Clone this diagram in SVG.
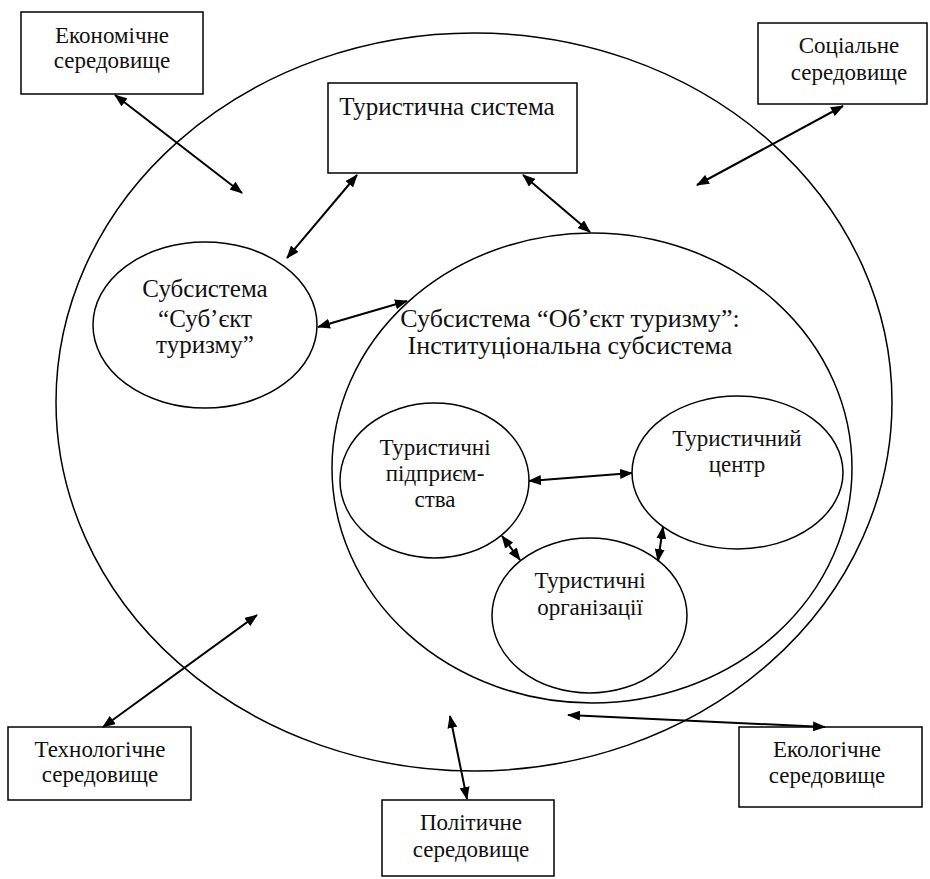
<svg xmlns="http://www.w3.org/2000/svg" width="930" height="879" viewBox="0 0 930 879">
<defs>
<style>
.box{fill:#fff;stroke:#000;stroke-width:1.5}
.ell{fill:none;stroke:#000;stroke-width:1.5}
.t{fill:#111;text-anchor:middle}
.s23{font-size:23px}
.s24{font-size:24px}
.s25{font-size:25px}
.s26{font-size:26px}
.con line{stroke:#000;stroke-width:2;marker-start:url(#ah);marker-end:url(#ah)}
</style>
<marker id="ah" viewBox="0 0 13 10" refX="12" refY="5" markerWidth="13" markerHeight="10" markerUnits="userSpaceOnUse" orient="auto-start-reverse">
<path d="M0,0 L13,5 L0,10 z" fill="#000"/>
</marker>
</defs>
<rect width="930" height="879" fill="#fff"/>
<g font-family="'Liberation Serif', 'Times New Roman', Tinos, 'DejaVu Serif', serif">
<g id="env-circle"><ellipse class="ell" cx="474" cy="402" rx="418" ry="369"/></g>
<g id="object-subsystem">
<ellipse class="ell" cx="592" cy="468" rx="260" ry="235"/>
<text class="t s26" x="570" y="327">Субсистема “Об’єкт туризму”:</text>
<text class="t s26" x="570" y="354">Інституціональна субсистема</text>
</g>
<g id="tourist-system">
<rect class="box" x="328" y="83" width="249" height="90"/>
<text class="t s25" x="447" y="115">Туристична система</text>
</g>
<g id="subject-subsystem">
<ellipse class="ell" cx="205" cy="325" rx="112" ry="83"/>
<text class="t s25" x="205" y="297">Субсистема</text>
<text class="t s25" x="205" y="327">“Суб’єкт</text>
<text class="t s25" x="205" y="353">туризму”</text>
</g>
<g id="enterprises">
<ellipse class="ell" cx="434.5" cy="480.5" rx="94.5" ry="77.5"/>
<text class="t s23" x="435" y="455">Туристичні</text>
<text class="t s23" x="435" y="481">підприєм-</text>
<text class="t s23" x="435" y="507">ства</text>
</g>
<g id="center">
<ellipse class="ell" cx="737.5" cy="472.5" rx="105.5" ry="76.5"/>
<text class="t s23" x="737" y="446">Туристичний</text>
<text class="t s23" x="737" y="472">центр</text>
</g>
<g id="organizations">
<ellipse class="ell" cx="589.5" cy="615.5" rx="97.5" ry="77.5"/>
<text class="t s23" x="590" y="588">Туристичні</text>
<text class="t s23" x="590" y="615">організації</text>
</g>
<g id="economic">
<rect class="box" x="21" y="12" width="182" height="82"/>
<text class="t s23" x="112" y="43">Економічне</text>
<text class="t s23" x="112" y="68">середовище</text>
</g>
<g id="social">
<rect class="box" x="758" y="23" width="169" height="81"/>
<text class="t s23" x="849" y="53">Соціальне</text>
<text class="t s23" x="849" y="80">середовище</text>
</g>
<g id="technological">
<rect class="box" x="8" y="727" width="183" height="73"/>
<text class="t s23" x="100" y="757">Технологічне</text>
<text class="t s23" x="100" y="782">середовище</text>
</g>
<g id="political">
<rect class="box" x="382" y="800" width="172" height="76"/>
<text class="t s23" x="471" y="830">Політичне</text>
<text class="t s23" x="471" y="857">середовище</text>
</g>
<g id="ecological">
<rect class="box" x="739" y="727" width="183" height="80"/>
<text class="t s23" x="827" y="757">Екологічне</text>
<text class="t s23" x="827" y="783">середовище</text>
</g>
</g>
<g id="connectors" class="con">
<line x1="115" y1="95" x2="242" y2="193"/>
<line x1="843" y1="106" x2="697" y2="185"/>
<line x1="287" y1="258" x2="357" y2="175"/>
<line x1="523" y1="175" x2="590" y2="232"/>
<line x1="318" y1="327" x2="407" y2="301"/>
<line x1="529" y1="481" x2="632" y2="473"/>
<line x1="502" y1="536" x2="520" y2="560"/>
<line x1="663" y1="527" x2="658" y2="561"/>
<line x1="103" y1="727" x2="257" y2="615"/>
<line x1="450" y1="716" x2="467" y2="799"/>
<line x1="568" y1="715" x2="825" y2="727"/>
</g>
</svg>
